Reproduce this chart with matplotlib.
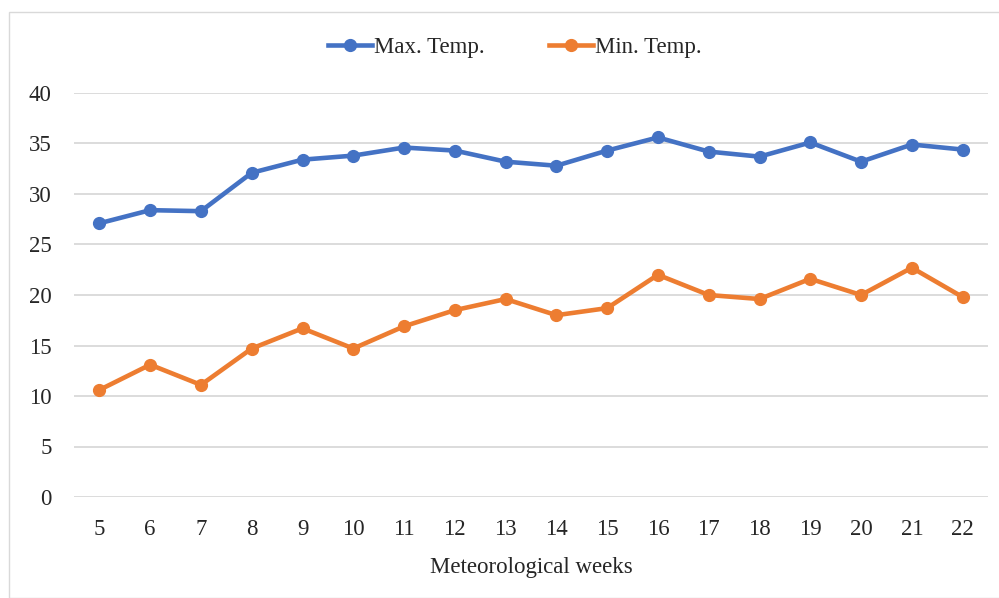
import matplotlib
matplotlib.use("Agg")
import matplotlib.pyplot as plt
from matplotlib.patches import Rectangle

weeks = ["5", "6", "7", "8", "9", "10", "11", "12", "13", "14", "15", "16", "17", "18", "19", "20", "21", "22"]
max_temp = [27.1, 28.4, 28.3, 32.1, 33.4, 33.8, 34.6, 34.3, 33.2, 32.8, 34.3, 35.6, 34.2, 33.7, 35.1, 33.2, 34.9, 34.4]
min_temp = [10.6, 13.1, 11.1, 14.7, 16.7, 14.7, 16.9, 18.5, 19.6, 18.0, 18.7, 22.0, 20.0, 19.6, 21.6, 20.0, 22.7, 19.8]
y_ticks = [0, 5, 10, 15, 20, 25, 30, 35, 40]

plt.rcParams['font.family'] = ['Liberation Serif', 'DejaVu Serif']

fig = plt.figure(figsize=(9.99, 5.98), dpi=100)
fig.patches.append(Rectangle((9/999, 0), 1.2, (598-12)/598, transform=fig.transFigure,
                             fill=False, edgecolor='#D9D9D9', linewidth=1))
ax = fig.add_axes([74/999, 1-497/598, (988-74)/999, (497-93)/598])

x = list(range(len(weeks)))
ax.plot(x, max_temp, color='#4472C4', lw=3.3, marker='o', ms=8.5, label='Max. Temp.', zorder=3)
ax.plot(x, min_temp, color='#ED7D31', lw=3.3, marker='o', ms=8.5, label='Min. Temp.', zorder=3)

ax.set_xlim(-0.5, len(weeks) - 0.5)
ax.set_ylim(0, 40)
ax.set_yticks(y_ticks)
ax.set_xticks(x)
ax.set_xticklabels(weeks)
ax.grid(axis='y', color='#D9D9D9', lw=1.3)
ax.set_axisbelow(True)
for s in ax.spines.values():
    s.set_visible(False)
ax.tick_params(length=0, labelsize=16.5, colors='#262626')
ax.tick_params(axis='x', pad=16)
ax.tick_params(axis='y', pad=16)
ax.set_xlabel('Meteorological weeks', fontsize=16.5, color='#262626', labelpad=12)

leg = fig.legend(loc='center', bbox_to_anchor=(515/999, 1-47/598), ncol=2, frameon=False,
                 fontsize=16.5, handlelength=1.9, columnspacing=2.8, handletextpad=0.1)
for t in leg.get_texts():
    t.set_color('#262626')

fig.savefig('out.png', dpi=100)
